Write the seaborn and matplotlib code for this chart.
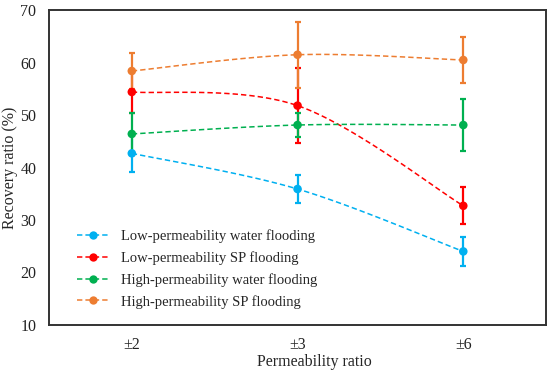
import numpy as np
import pandas as pd
import matplotlib
matplotlib.use("Agg")
import matplotlib.pyplot as plt
import seaborn as sns

categories = ["±2", "±3", "±6"]
series_names = ["Low-permeability water flooding", "Low-permeability SP flooding",
                "High-permeability water flooding", "High-permeability SP flooding"]
low_water = [42.7, 35.9, 24.0]
low_water_err = [3.5, 2.7, 2.75]
low_sp = [54.4, 51.8, 32.7]
low_sp_err = [4.1, 7.1, 3.5]
high_water = [46.4, 48.1, 48.1]
high_water_err = [4.0, 2.3, 4.9]
high_sp = [58.4, 61.5, 60.5]
high_sp_err = [3.5, 6.3, 4.3]
colors = ["#00B0F0", "#FF0000", "#00B050", "#ED7D31"]

sns.set_style("white")
plt.rcParams['font.family'] = ['Liberation Serif', 'DejaVu Serif']

fig = plt.figure(figsize=(5.5, 3.76), dpi=100)
ax = fig.add_axes([0.089, 0.136, 0.904, 0.837])

values = [low_water, low_sp, high_water, high_sp]
errs = [low_water_err, low_sp_err, high_water_err, high_sp_err]

def smooth(xs, ys, n=40):
    # Excel-style smoothed line (Bezier through points)
    P = np.column_stack([xs, ys]).astype(float)
    out = []
    m = len(P)
    for i in range(m - 1):
        p0 = P[i - 1] if i > 0 else P[i]
        p1 = P[i]
        p2 = P[i + 1]
        p3 = P[i + 2] if i + 2 < m else P[i + 1]
        c1 = p1 + (p2 - p0) / 6
        c2 = p2 - (p3 - p1) / 6
        t = np.linspace(0, 1, n)[:, None]
        seg = ((1 - t) ** 3) * p1 + 3 * ((1 - t) ** 2) * t * c1 + 3 * (1 - t) * t ** 2 * c2 + t ** 3 * p2
        out.append(seg if i == 0 else seg[1:])
    return np.vstack(out)

x = np.arange(len(categories))
rows = []
for name, v, e, c in zip(series_names, values, errs, colors):
    curve = smooth(x, v)
    ax.plot(curve[:, 0], curve[:, 1], linestyle=(0, (3.5, 2)), color=c, linewidth=1.1, zorder=2)
    ax.errorbar(x, v, yerr=e, fmt='none', ecolor=c, elinewidth=1.6, capsize=2.5, capthick=1.6, zorder=3)
    for xi, vi in zip(x, v):
        rows.append({"x": xi, "y": vi, "series": name})

df = pd.DataFrame(rows)
sns.scatterplot(data=df, x="x", y="y", hue="series", palette=colors, hue_order=series_names,
                s=38, edgecolor='none', ax=ax, legend=False, zorder=4)

from matplotlib.lines import Line2D
handles = [Line2D([0], [0], color=c, linestyle=(0, (3.5, 2)), linewidth=1.1, marker='o',
                  markersize=6, markeredgewidth=0) for c in colors]
ax.legend(handles, series_names, loc='lower left', bbox_to_anchor=(0.03, 0.01), frameon=False,
          fontsize=10.5, labelspacing=0.55, handlelength=2.2, handletextpad=0.8)

ax.set_xlim(-0.5, 2.5)
ax.set_ylim(10, 70)
ax.set_yticks(range(10, 71, 10))
ax.set_xticks(x)
ax.set_xticklabels(categories)
ax.tick_params(axis='y', direction='in', length=3, width=1, labelsize=11.5, colors='#222222', pad=9)
ax.tick_params(axis='x', length=0, labelsize=11.5, colors='#222222', pad=9)
ax.set_xlabel("Permeability ratio", fontsize=11.5)
ax.xaxis.set_label_coords(0.534, -0.092)
ax.set_ylabel("Recovery ratio (%)", fontsize=11.5)
ax.yaxis.set_label_coords(-0.062, 0.5)
for sp in ax.spines.values():
    sp.set_color('#333333')
    sp.set_linewidth(1.4)

fig.savefig("out.png", dpi=100)
